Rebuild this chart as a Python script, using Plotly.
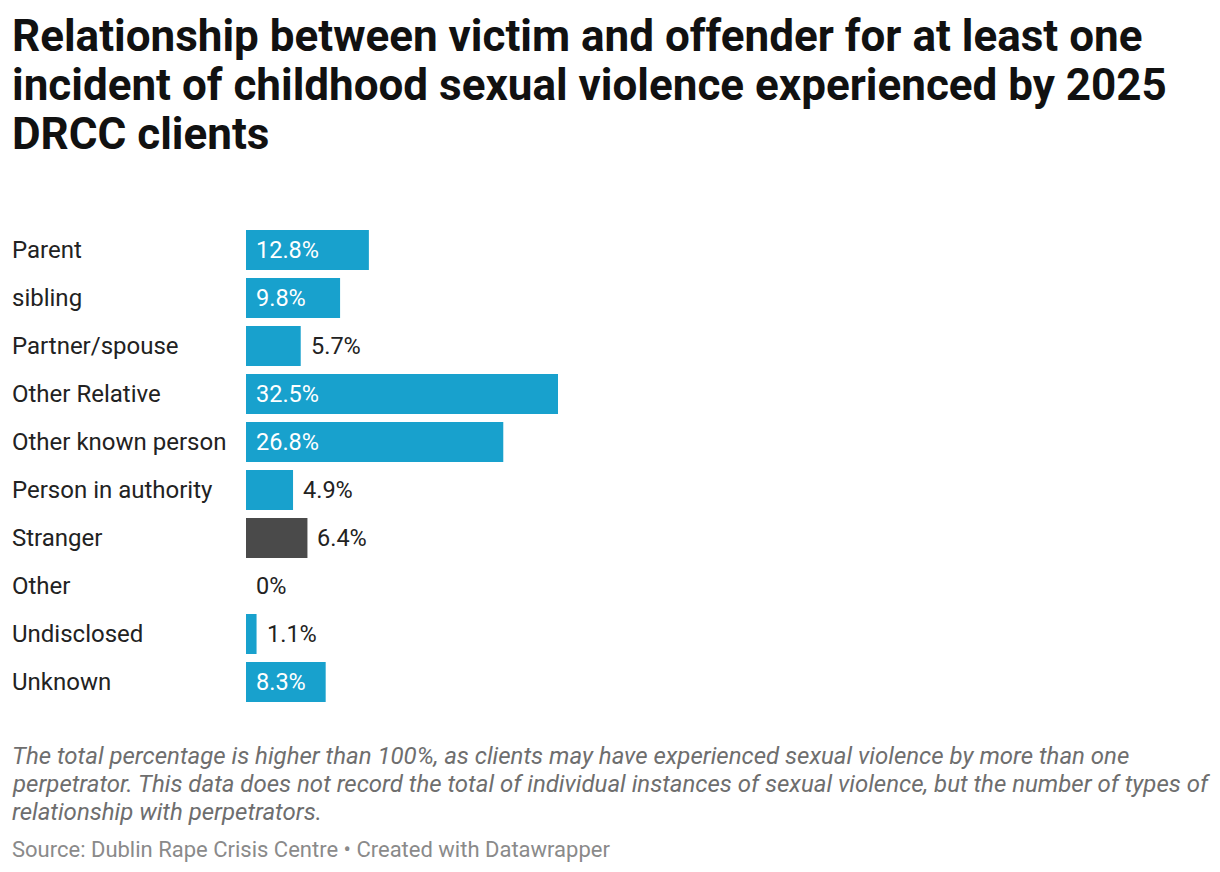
import plotly.graph_objects as go

categories = ["Parent", "sibling", "Partner/spouse", "Other Relative", "Other known person",
              "Person in authority", "Stranger", "Other", "Undisclosed", "Unknown"]
values = [12.8, 9.8, 5.7, 32.5, 26.8, 4.9, 6.4, 0, 1.1, 8.3]
highlight = ["Stranger"]

title_lines = ["Relationship between victim and offender for at least one",
               "incident of childhood sexual violence experienced by 2025",
               "DRCC clients"]
note_lines = ["The total percentage is higher than 100%, as clients may have experienced sexual violence by more than one",
              "perpetrator. This data does not record the total of individual instances of sexual violence, but the number of types of",
              "relationship with perpetrators."]
source_text = "Source: Dublin Rape Crisis Centre • Created with Datawrapper"

BLUE = "#18a1cd"
DARK = "#4a4a4a"
colors = [DARK if c in highlight else BLUE for c in categories]

FONT = "Roboto"
W, H = 1220, 872
ML, MR, MT, MB = 246, 20, 226, 166
PW, PH = W - ML - MR, H - MT - MB
px_per_unit = 9.6
xmax = PW / px_per_unit


def px(x):
    return (x - ML) / PW


def py(y):
    return 1 - (y - MT) / PH


fig = go.Figure(go.Bar(
    x=values, y=categories, orientation="h",
    marker=dict(color=colors, line=dict(width=0)),
    width=0.833, hoverinfo="skip",
))

anns = []
for c, v in zip(categories, values):
    label = f"{v:g}%"
    inside = v > 7
    anns.append(dict(
        x=0 if inside else v, y=c, xref="x", yref="y",
        text=label, showarrow=False, xanchor="left", yanchor="middle",
        xshift=8, font=dict(family=FONT, size=23.5, color="#ffffff" if inside else "#222222"),
    ))
    anns.append(dict(
        x=px(10), y=c, xref="paper", yref="y",
        text=c, showarrow=False, xanchor="left", yanchor="middle",
        font=dict(family=FONT, size=24, color="#222222"),
    ))

for i, t in enumerate(title_lines):
    anns.append(dict(
        x=px(10), y=py(36 + 49 * i), xref="paper", yref="paper", xanchor="left", yanchor="middle",
        showarrow=False, text=f"<b>{t}</b>",
        font=dict(family=FONT, size=44, color="#111111"),
    ))
for i, t in enumerate(note_lines):
    anns.append(dict(
        x=px(10), y=py(756 + 28 * i), xref="paper", yref="paper", xanchor="left", yanchor="middle",
        showarrow=False, text=f"<i>{t}</i>",
        font=dict(family=FONT, size=24, color="#6e6e6e"),
    ))
anns.append(dict(
    x=px(10), y=py(849), xref="paper", yref="paper", xanchor="left", yanchor="middle",
    showarrow=False, text=source_text,
    font=dict(family=FONT, size=22, color="#8a8a8a"),
))

fig.update_layout(
    width=W, height=H,
    margin=dict(l=ML, r=MR, t=MT, b=MB, pad=0),
    paper_bgcolor="white", plot_bgcolor="white",
    showlegend=False,
    xaxis=dict(range=[0, xmax], visible=False, fixedrange=True),
    yaxis=dict(categoryorder="array", categoryarray=categories, autorange="reversed",
               showticklabels=False, showgrid=False, zeroline=False, fixedrange=True),
    annotations=anns,
)

fig.write_html("out.html", config={"displayModeBar": False},
               post_script="document.body.style.margin='0';")
